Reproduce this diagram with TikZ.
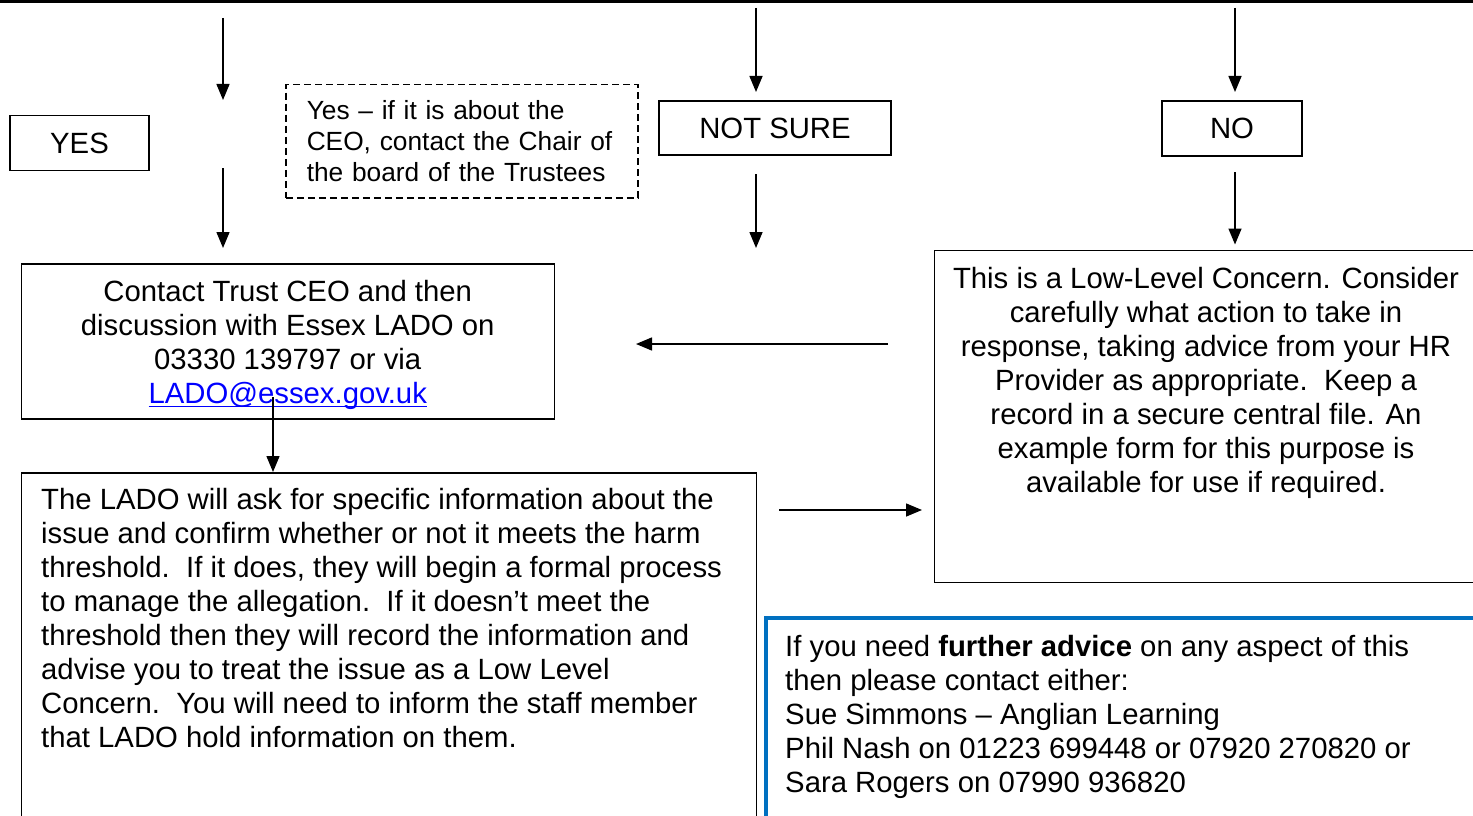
\documentclass[tikz,border=0pt]{standalone}
\usepackage{fontspec}
\setmainfont{Liberation Sans}
\usepackage{xcolor}
\usetikzlibrary{positioning,arrows.meta}
\definecolor{linkblue}{HTML}{0000FF}
\definecolor{advblue}{HTML}{0070C0}
\newcommand{\bodysize}{\fontsize{29.3}{34}\selectfont}
\newcommand{\notesize}{\fontsize{26.3}{31}\selectfont}
\newcommand{\maillink}[1]{{\color{linkblue}\setbox0\hbox{#1}\rlap{\rule[-3.5pt]{\wd0}{1.6pt}}\box0}}

\begin{document}
\begin{tikzpicture}[
  x=1pt, y=-1pt,
  >={Triangle[length=16pt,width=13pt]},
  box/.style={draw, line width=1.5pt, inner sep=0pt, font=\bodysize, align=center},
  notebox/.style={box, dash pattern=on 7pt off 4pt, font=\notesize, align=left},
  advbox/.style={draw=advblue, line width=4pt, inner sep=0pt},
  txt/.style={inner sep=0pt, font=\bodysize},
  arr/.style={->, line width=1.5pt}
]
  \useasboundingbox (0,0) rectangle (1473,816);
  \clip (0,0) rectangle (1473,816);
  \draw[line width=3pt] (0,1.5) -- (1473,1.5);

  \node[box, minimum width=139pt, minimum height=55pt] (yes) at (79.5,143) {YES};
  \node[notebox, anchor=north west, minimum width=352pt, minimum height=113pt,
        text width=310pt] (ceo) at (285,84)
        {Yes -- if it is about the\\CEO, contact the Chair of\\the board of the Trustees};
  \node[box, minimum width=232pt, minimum height=54pt] (notsure) at (775,128) {NOT SURE};
  \node[box, minimum width=140pt, minimum height=55pt] (no) at (1232,128.5) {NO};

  \node[box, anchor=north west, minimum width=533pt, minimum height=155pt] (contact) at (20.5,263)
        {\rule{0pt}{29pt}Contact Trust CEO and then\\discussion with Essex LADO on\\03330 139797 or via\\
         \maillink{LADO@essex.gov.uk}};
  \node[box, anchor=north west, minimum width=735pt, minimum height=380pt] (lado) at (20.5,472) {};
  \node[txt, anchor=north west, align=left] (ladotxt) at (41,488.5)
        {The LADO will ask for specific information about the\\
         issue and confirm whether or not it meets the harm\\
         threshold.\ \ If it does, they will begin a formal process\\
         to manage the allegation.\ \ If it doesn’t meet the\\
         threshold then they will record the information and\\
         advise you to treat the issue as a Low Level\\
         Concern.\ \ You will need to inform the staff member\\
         that LADO hold information on them.};

  \node[box, anchor=north west, minimum width=620pt, minimum height=332pt] (low) at (933.5,249.5) {};
  \node[txt, anchor=north, align=center] (lowtxt) at (1206,267)
        {This is a Low-Level Concern. Consider\\
         carefully what action to take in\\
         response, taking advice from your HR\\
         Provider as appropriate.\ \ Keep a\\
         record in a secure central file. An\\
         example form for this purpose is\\
         available for use if required.};

  \node[advbox, anchor=north west, minimum width=800pt, minimum height=300pt] (advice) at (763.5,616) {};
  \node[txt, anchor=north west, align=left] (advicetxt) at (785,635)
        {If you need \textbf{further advice} on any aspect of this\\
         then please contact either:\\
         Sue Simmons -- Anglian Learning\\
         Phil Nash on 01223 699448 or 07920 270820 or\\
         Sara Rogers on 07990 936820};

  \coordinate (yestop) at (223,18);
  \coordinate (yesmid) at (223,100);
  \coordinate (yesout) at (223,168);
  \coordinate (yesend) at (223,248);
  \coordinate (nstop) at (756,8);
  \coordinate (nsmid) at (756,92);
  \coordinate (nsout) at (756,174);
  \coordinate (nsend) at (756,248);
  \coordinate (notop) at (1235,8);
  \coordinate (nomid) at (1235,92);
  \coordinate (noout) at (1235,172);
  \coordinate (backin) at (888,344);
  \coordinate (backend) at (636,344);
  \coordinate (ladoin) at (273,397);
  \coordinate (ladoout) at (779,510);
  \coordinate (lowin) at (922,510);

  \draw[arr] (yestop) -- (yesmid);
  \draw[arr] (yesout) -- (yesend);
  \draw[arr] (nstop) -- (nsmid);
  \draw[arr] (nsout) -- (nsend);
  \draw[arr] (notop) -- (nomid);
  \draw[arr, shorten >=5pt] (noout) -- (noout |- low.north);
  \draw[arr] (backin) -- (backend);
  \draw[arr] (ladoin) -- (ladoin |- lado.north);
  \draw[arr] (ladoout) -- (lowin);
\end{tikzpicture}
\end{document}
